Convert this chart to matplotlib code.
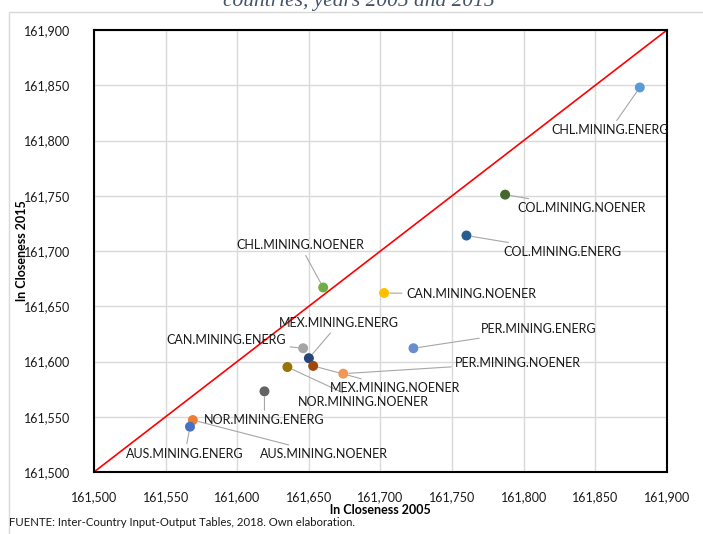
import matplotlib.pyplot as plt
from matplotlib.patches import Rectangle
from matplotlib.ticker import FuncFormatter

plt.rcParams['font.family'] = ['Lato', 'DejaVu Sans']

# ln closeness values
labels = ['CHL.MINING.ENERG', 'COL.MINING.NOENER', 'COL.MINING.ENERG', 'CHL.MINING.NOENER',
          'CAN.MINING.NOENER', 'CAN.MINING.ENERG', 'MEX.MINING.ENERG', 'NOR.MINING.NOENER',
          'MEX.MINING.NOENER', 'PER.MINING.NOENER', 'NOR.MINING.ENERG', 'AUS.MINING.NOENER',
          'AUS.MINING.ENERG', 'PER.MINING.ENERG']
x2005 = [161.881, 161.787, 161.760, 161.660, 161.7025, 161.646, 161.650, 161.635,
         161.653, 161.674, 161.619, 161.569, 161.567, 161.723]
y2015 = [161.848, 161.751, 161.714, 161.667, 161.662, 161.612, 161.603, 161.595,
         161.596, 161.589, 161.573, 161.547, 161.541, 161.612]
colors = ['#5B9BD5', '#43682B', '#255E91', '#70AD47', '#FFC000', '#A5A5A5', '#264478', '#997300',
          '#9E480E', '#F1975A', '#636363', '#ED7D31', '#4472C4', '#698ED0']
# label offsets in pixels (dx, dy, ha)
offsets = [(-30, -43, 'center'), (12, -13, 'left'), (96, -16, 'center'), (-23, 42, 'center'),
           (22, -1, 'left'), (-77, 8, 'center'), (30, 35, 'center'), (10, -35, 'left'),
           (17, -22, 'left'), (112, 11, 'left'), (0, -29, 'center'), (67, -34, 'left'),
           (-5, -27, 'center'), (67, 19, 'left')]

ticks = [161.5, 161.55, 161.6, 161.65, 161.7, 161.75, 161.8, 161.85, 161.9]

fig = plt.figure(figsize=(7.03, 5.34), dpi=100)
ax = fig.add_axes([94 / 703, 62 / 534, 573 / 703, 442 / 534])

# chart area border (runs off the right and bottom of the crop)
fig.patches.append(Rectangle((9 / 703, -0.1), 1.0, 1.1 - 12 / 534, transform=fig.transFigure,
                             fill=False, edgecolor='#D9D9D9', linewidth=1))

ax.set_xlim(161.5, 161.9)
ax.set_ylim(161.5, 161.9)
ax.set_xticks(ticks)
ax.set_yticks(ticks)
fmt = FuncFormatter(lambda v, p: '{:.3f}'.format(v).replace('.', ','))
ax.xaxis.set_major_formatter(fmt)
ax.yaxis.set_major_formatter(fmt)
ax.tick_params(length=0, labelsize=9, colors='#1a1a1a')
ax.tick_params(axis='x', pad=14)
ax.tick_params(axis='y', pad=17)
ax.grid(True, color='#D9D9D9', linewidth=1)
ax.set_axisbelow(True)
for s in ax.spines.values():
    s.set_linewidth(1.5)
    s.set_color('black')

ax.plot([161.5, 161.9], [161.5, 161.9], color='red', linewidth=1.2, zorder=2)
ax.scatter(x2005, y2015, s=38, c=colors, zorder=4)

for lab, x, y, (dx, dy, ha) in zip(labels, x2005, y2015, offsets):
    ax.annotate(lab, (x, y), xytext=(dx, dy), textcoords='offset pixels', ha=ha, va='center',
                fontsize=9, color='#1a1a1a',
                arrowprops=dict(arrowstyle='-', color='#A6A6A6', linewidth=0.8, shrinkA=1, shrinkB=4))

ax.set_xlabel('ln Closeness 2005', fontsize=9, fontweight='bold')
ax.set_ylabel('ln Closeness 2015', fontsize=9, fontweight='bold')
ax.xaxis.set_label_coords(0.5, -0.072)
ax.yaxis.set_label_coords(-0.115, 0.5)

fig.text(0.51, 0.997, 'countries, years 2005 and 2015', ha='center', va='center', fontsize=15.5,
         family='Liberation Serif', style='italic', color='#44546A')
fig.text(9 / 703, 1 - 522 / 534, 'FUENTE: Inter-Country Input-Output Tables, 2018. Own elaboration.',
         fontsize=8.2, va='center', color='#1a1a1a')

fig.savefig('out.png', dpi=100)
